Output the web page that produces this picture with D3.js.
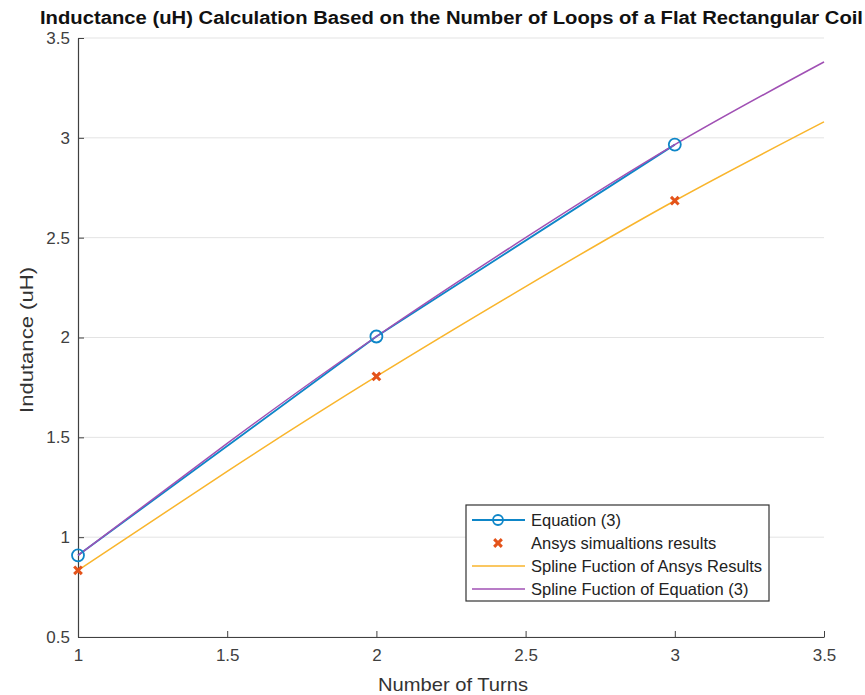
<!DOCTYPE html>
<html>
<head>
<meta charset="utf-8">
<script src="https://cdn.jsdelivr.net/npm/d3@7"></script>
<style>
  body { margin: 0; background: #fff; }
  text { font-family: "Liberation Sans", Arial, sans-serif; }
  .tick text { fill: #404040; font-size: 17px; }
</style>
</head>
<body>
<div id="chart"></div>
<script>
// Data
const turns = [1, 2, 3];
const equation3 = [0.909, 2.005, 2.966];
const ansys = [0.834, 1.805, 2.685];

const splineX = [1, 1.5, 2, 2.5, 3, 3.5];
const splineAnsys = [0.834, 1.33, 1.805, 2.255, 2.685, 3.08];
const splineEquation = [0.909, 1.47, 2.005, 2.50, 2.966, 3.38];

const xTicks = [1, 1.5, 2, 2.5, 3, 3.5];
const yTicks = [0.5, 1, 1.5, 2, 2.5, 3, 3.5];

const legendLabels = [
  "Equation (3)",
  "Ansys simualtions results",
  "Spline Fuction of Ansys Results",
  "Spline Fuction of Equation (3)"
];

const colors = {
  blue: "#0e86c8",
  orange: "#e4531a",
  yellow: "#f9b52c",
  purple: "#a050b4"
};

const width = 865;
const height = 695;
const margin = { top: 38, right: 41, bottom: 58, left: 78 };

const svg = d3.select('#chart')
  .append('svg')
  .attr('width', width)
  .attr('height', height);

const x = d3.scaleLinear()
  .domain([1, 3.5])
  .range([margin.left, width - margin.right]);

const y = d3.scaleLinear()
  .domain([0.5, 3.5])
  .range([height - margin.bottom, margin.top]);

// horizontal grid
svg.append('g')
  .selectAll('line')
  .data(yTicks)
  .join('line')
  .attr('x1', x(1))
  .attr('x2', x(3.5))
  .attr('y1', d => y(d))
  .attr('y2', d => y(d))
  .attr('stroke', '#e3e3e3')
  .attr('stroke-width', 1);

// axes
const xAxis = svg.append('g')
  .attr('transform', `translate(0,${y(0.5)})`)
  .call(d3.axisBottom(x).tickValues(xTicks).tickSizeInner(-6).tickSizeOuter(0).tickPadding(12).tickFormat(d3.format('')));

const yAxis = svg.append('g')
  .attr('transform', `translate(${x(1)},0)`)
  .call(d3.axisLeft(y).tickValues(yTicks).tickSizeInner(-6).tickSizeOuter(0).tickPadding(8).tickFormat(d3.format('')));

[xAxis, yAxis].forEach(a => {
  a.select('.domain').attr('stroke', '#404040').attr('stroke-width', 1.2);
  a.selectAll('.tick line').attr('stroke', '#404040');
});

// lines
const line = d3.line()
  .x(d => x(d[0]))
  .y(d => y(d[1]));

const splineLine = d3.line()
  .x(d => x(d[0]))
  .y(d => y(d[1]))
  .curve(d3.curveNatural);

svg.append('path')
  .datum(d3.zip(turns, equation3))
  .attr('d', line)
  .attr('fill', 'none')
  .attr('stroke', colors.blue)
  .attr('stroke-width', 1.8);

svg.append('path')
  .datum(d3.zip(splineX, splineAnsys))
  .attr('d', splineLine)
  .attr('fill', 'none')
  .attr('stroke', colors.yellow)
  .attr('stroke-width', 1.5);

svg.append('path')
  .datum(d3.zip(splineX, splineEquation))
  .attr('d', splineLine)
  .attr('fill', 'none')
  .attr('stroke', colors.purple)
  .attr('stroke-width', 1.5);

// markers
svg.append('g')
  .selectAll('circle')
  .data(d3.zip(turns, equation3))
  .join('circle')
  .attr('cx', d => x(d[0]))
  .attr('cy', d => y(d[1]))
  .attr('r', 6)
  .attr('fill', 'none')
  .attr('stroke', colors.blue)
  .attr('stroke-width', 1.8);

const cross = d3.symbol().type(d3.symbolX).size(40);

svg.append('g')
  .selectAll('path')
  .data(d3.zip(turns, ansys))
  .join('path')
  .attr('d', cross)
  .attr('transform', d => `translate(${x(d[0])},${y(d[1])})`)
  .attr('fill', 'none')
  .attr('stroke', colors.orange)
  .attr('stroke-width', 3);

// title and labels (stretched like the original export)
svg.append('text')
  .text('Inductance (uH) Calculation Based on the Number of Loops of a Flat Rectangular Coil')
  .attr('x', 40)
  .attr('y', 24)
  .attr('textLength', 823)
  .attr('lengthAdjust', 'spacingAndGlyphs')
  .attr('font-size', 18)
  .attr('font-weight', 'bold')
  .attr('fill', '#111');

svg.append('text')
  .text('Number of Turns')
  .attr('x', 378)
  .attr('y', 691)
  .attr('textLength', 150)
  .attr('lengthAdjust', 'spacingAndGlyphs')
  .attr('font-size', 19)
  .attr('fill', '#333');

svg.append('text')
  .text('Indutance (uH)')
  .attr('transform', 'translate(33,413) rotate(-90)')
  .attr('textLength', 146)
  .attr('lengthAdjust', 'spacingAndGlyphs')
  .attr('font-size', 18)
  .attr('fill', '#333');

// legend
const legend = svg.append('g').attr('transform', 'translate(466,505)');

legend.append('rect')
  .attr('width', 303)
  .attr('height', 96)
  .attr('fill', '#fff')
  .attr('stroke', '#333')
  .attr('stroke-width', 1.2);

const rowY = i => 15 + i * 23;

legendLabels.forEach((label, i) => {
  const g = legend.append('g').attr('transform', `translate(0,${rowY(i)})`);
  if (i !== 1) {
    g.append('line')
      .attr('x1', 6).attr('x2', 59)
      .attr('stroke', [colors.blue, null, colors.yellow, colors.purple][i])
      .attr('stroke-width', i === 0 ? 1.8 : 1.5);
  }
  if (i === 0) {
    g.append('circle').attr('cx', 32).attr('r', 5)
      .attr('fill', 'none').attr('stroke', colors.blue).attr('stroke-width', 1.8);
  }
  if (i === 1) {
    g.append('path').attr('d', cross).attr('transform', 'translate(32,0)')
      .attr('fill', 'none').attr('stroke', colors.orange).attr('stroke-width', 3);
  }
  g.append('text')
    .text(label)
    .attr('x', 65)
    .attr('y', 6)
    .attr('font-size', 16.5)
    .attr('fill', '#222');
});
</script>
</body>
</html>
